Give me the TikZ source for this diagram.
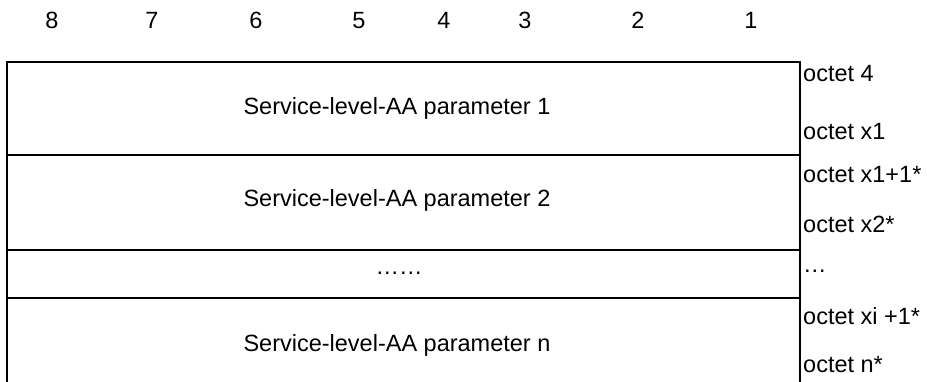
\documentclass[tikz,border=0pt]{standalone}
\usepackage{fontspec}
\setmainfont{Liberation Sans}

\begin{document}
\begin{tikzpicture}[
    x=1pt, y=-1pt,
    txt/.style={
        inner sep=0pt,
        text height=0.72em,
        text depth=0.2em,
        font=\fontsize{23.5}{28}\selectfont
    },
    octet/.style={txt, anchor=west},
    frame/.style={line width=1.6pt}
]
\clip (0,0) rectangle (927,382);

% bit numbers
\foreach \b/\x in {8/52, 7/152, 6/256, 5/359, 4/444, 3/525, 2/638, 1/751}
    \node[txt] (bit\b) at (\x,26) {\b};

% field rows
\coordinate (tl) at (7,62);
\coordinate (tr) at (800,62);
\coordinate (bl) at (7,400);
\coordinate (br) at (800,400);
\draw[frame] (bl) -- (tl) -- (tr) -- (br);
\foreach \y in {155, 250, 298}
    \draw[frame] (7,\y) -- (800,\y);

\node[txt] (par1) at (397,112) {Service-level-AA parameter 1};
\node[txt] (par2) at (397,204) {Service-level-AA parameter 2};
\node[txt] (dots) at (399,272) {\ldots\ldots};
\node[txt] (parn) at (397,349) {Service-level-AA parameter n};

% octet numbers
\node[octet] (o4) at (803,79) {octet 4};
\node[octet] (ox1) at (803,137) {octet x1};
\node[octet] (ox1p) at (803,180) {octet x1+1*};
\node[octet] (ox2) at (803,230) {octet x2*};
\node[octet] (odots) at (803,270) {\ldots};
\node[octet] (oxi) at (803,322) {octet xi +1*};
\node[octet] (on) at (803,370) {octet n*};
\end{tikzpicture}
\end{document}
